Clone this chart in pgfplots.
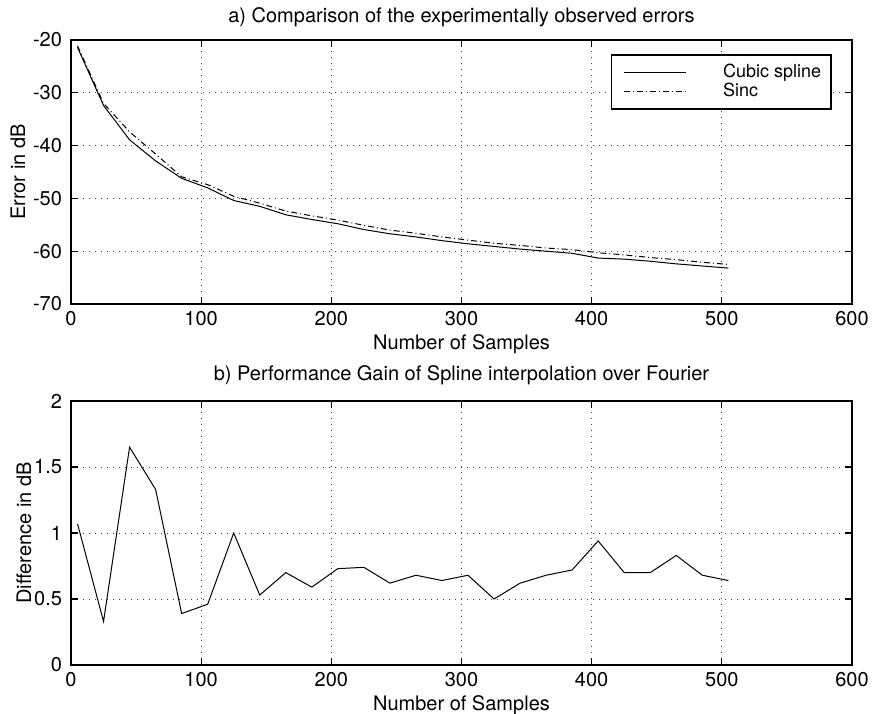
\documentclass[border=0pt]{standalone}
\usepackage{pgfplots}
\pgfplotsset{compat=1.18}
\usepackage{fontspec}
\setmainfont{TeX Gyre Heros}

% data (x = number of samples)
\pgfplotstableread{
n    spline  sinc   diff
5    -21.4   -21.1  1.07
25   -32.4   -32.0  0.33
45   -38.9   -37.4  1.65
65   -42.9   -41.6  1.33
85   -46.2   -45.9  0.39
105  -48.0   -47.4  0.46
125  -50.4   -49.6  1.00
145  -51.5   -50.9  0.53
165  -53.1   -52.4  0.70
185  -54.0   -53.3  0.59
205  -54.8   -54.1  0.73
225  -55.9   -55.1  0.74
245  -56.7   -56.0  0.62
265  -57.3   -56.6  0.68
285  -58.0   -57.3  0.64
305  -58.6   -57.9  0.68
325  -59.1   -58.5  0.50
345  -59.6   -58.9  0.62
365  -60.0   -59.4  0.68
385  -60.4   -59.7  0.72
405  -61.3   -60.3  0.94
425  -61.5   -60.7  0.70
445  -61.9   -61.2  0.70
465  -62.4   -61.6  0.83
485  -62.8   -62.1  0.68
505  -63.2   -62.5  0.64
}\datatable

\pgfplotsset{
  matlab/.style={
    scale only axis,
    width=390.5pt, height=132pt,
    xmin=0, xmax=600, xtick={0,100,...,600},
    tick align=inside,
    major tick length=3.5pt,
    axis line style={line width=0.8pt},
    every tick/.style={black, line width=0.6pt},
    grid=major,
    major grid style={black!75, line width=0.4pt, dash pattern=on 0.5pt off 2.5pt},
    /pgf/number format/assume math mode=true,
    tick label style={font=\fontsize{10}{11}\selectfont},
    label style={font=\fontsize{10}{11}\selectfont},
    title style={font=\fontsize{10}{11}\selectfont},
    xlabel={Number of Samples},
    xlabel style={yshift=2.5pt},
    yticklabel style={xshift=-1pt},
  }
}

\begin{document}
\begin{tikzpicture}
\useasboundingbox (0,0) rectangle (436pt,356.5pt);

\begin{axis}[matlab,
  at={(35.5pt,204.5pt)}, anchor=south west,
  ymin=-70, ymax=-20, ytick={-70,-60,...,-20},
  ylabel={Error in dB},
  ylabel style={yshift=-3pt},
  title={a) Comparison of the experimentally observed errors},
  title style={yshift=-3pt},
  legend style={at={(axis description cs:0.9744,0.947)}, anchor=north east,
    draw=black, line width=0.9pt, font=\fontsize{9}{9}\selectfont,
    inner xsep=3pt, inner ysep=2.5pt, row sep=-2.5pt},
  legend cell align=left,
  legend image code/.code={\path[draw=none, fill=none] (-3pt,0pt) -- (31pt,0pt);
    \draw[#1, line width=0.5pt] (0pt,0pt) -- (31pt,0pt);},
]
\addplot[black, line width=0.5pt] table[x=n, y=spline] {\datatable};
\addlegendentry{\hspace*{16.5pt}Cubic spline}
\addplot[black, line width=0.5pt, dash pattern=on 3pt off 1.5pt on 0.5pt off 1.5pt] table[x=n, y=sinc] {\datatable};
\addlegendentry{\hspace*{16.5pt}Sinc}
\end{axis}

\begin{axis}[matlab,
  at={(35.5pt,24pt)}, anchor=south west,
  ymin=0, ymax=2, ytick={0,0.5,...,2},
  ylabel={Difference in dB},
  ylabel style={yshift=-5.5pt},
  title={b) Performance Gain of Spline interpolation over Fourier},
  title style={yshift=-1.5pt},
]
\addplot[black, line width=0.5pt] table[x=n, y=diff] {\datatable};
\end{axis}
\end{tikzpicture}
\end{document}
